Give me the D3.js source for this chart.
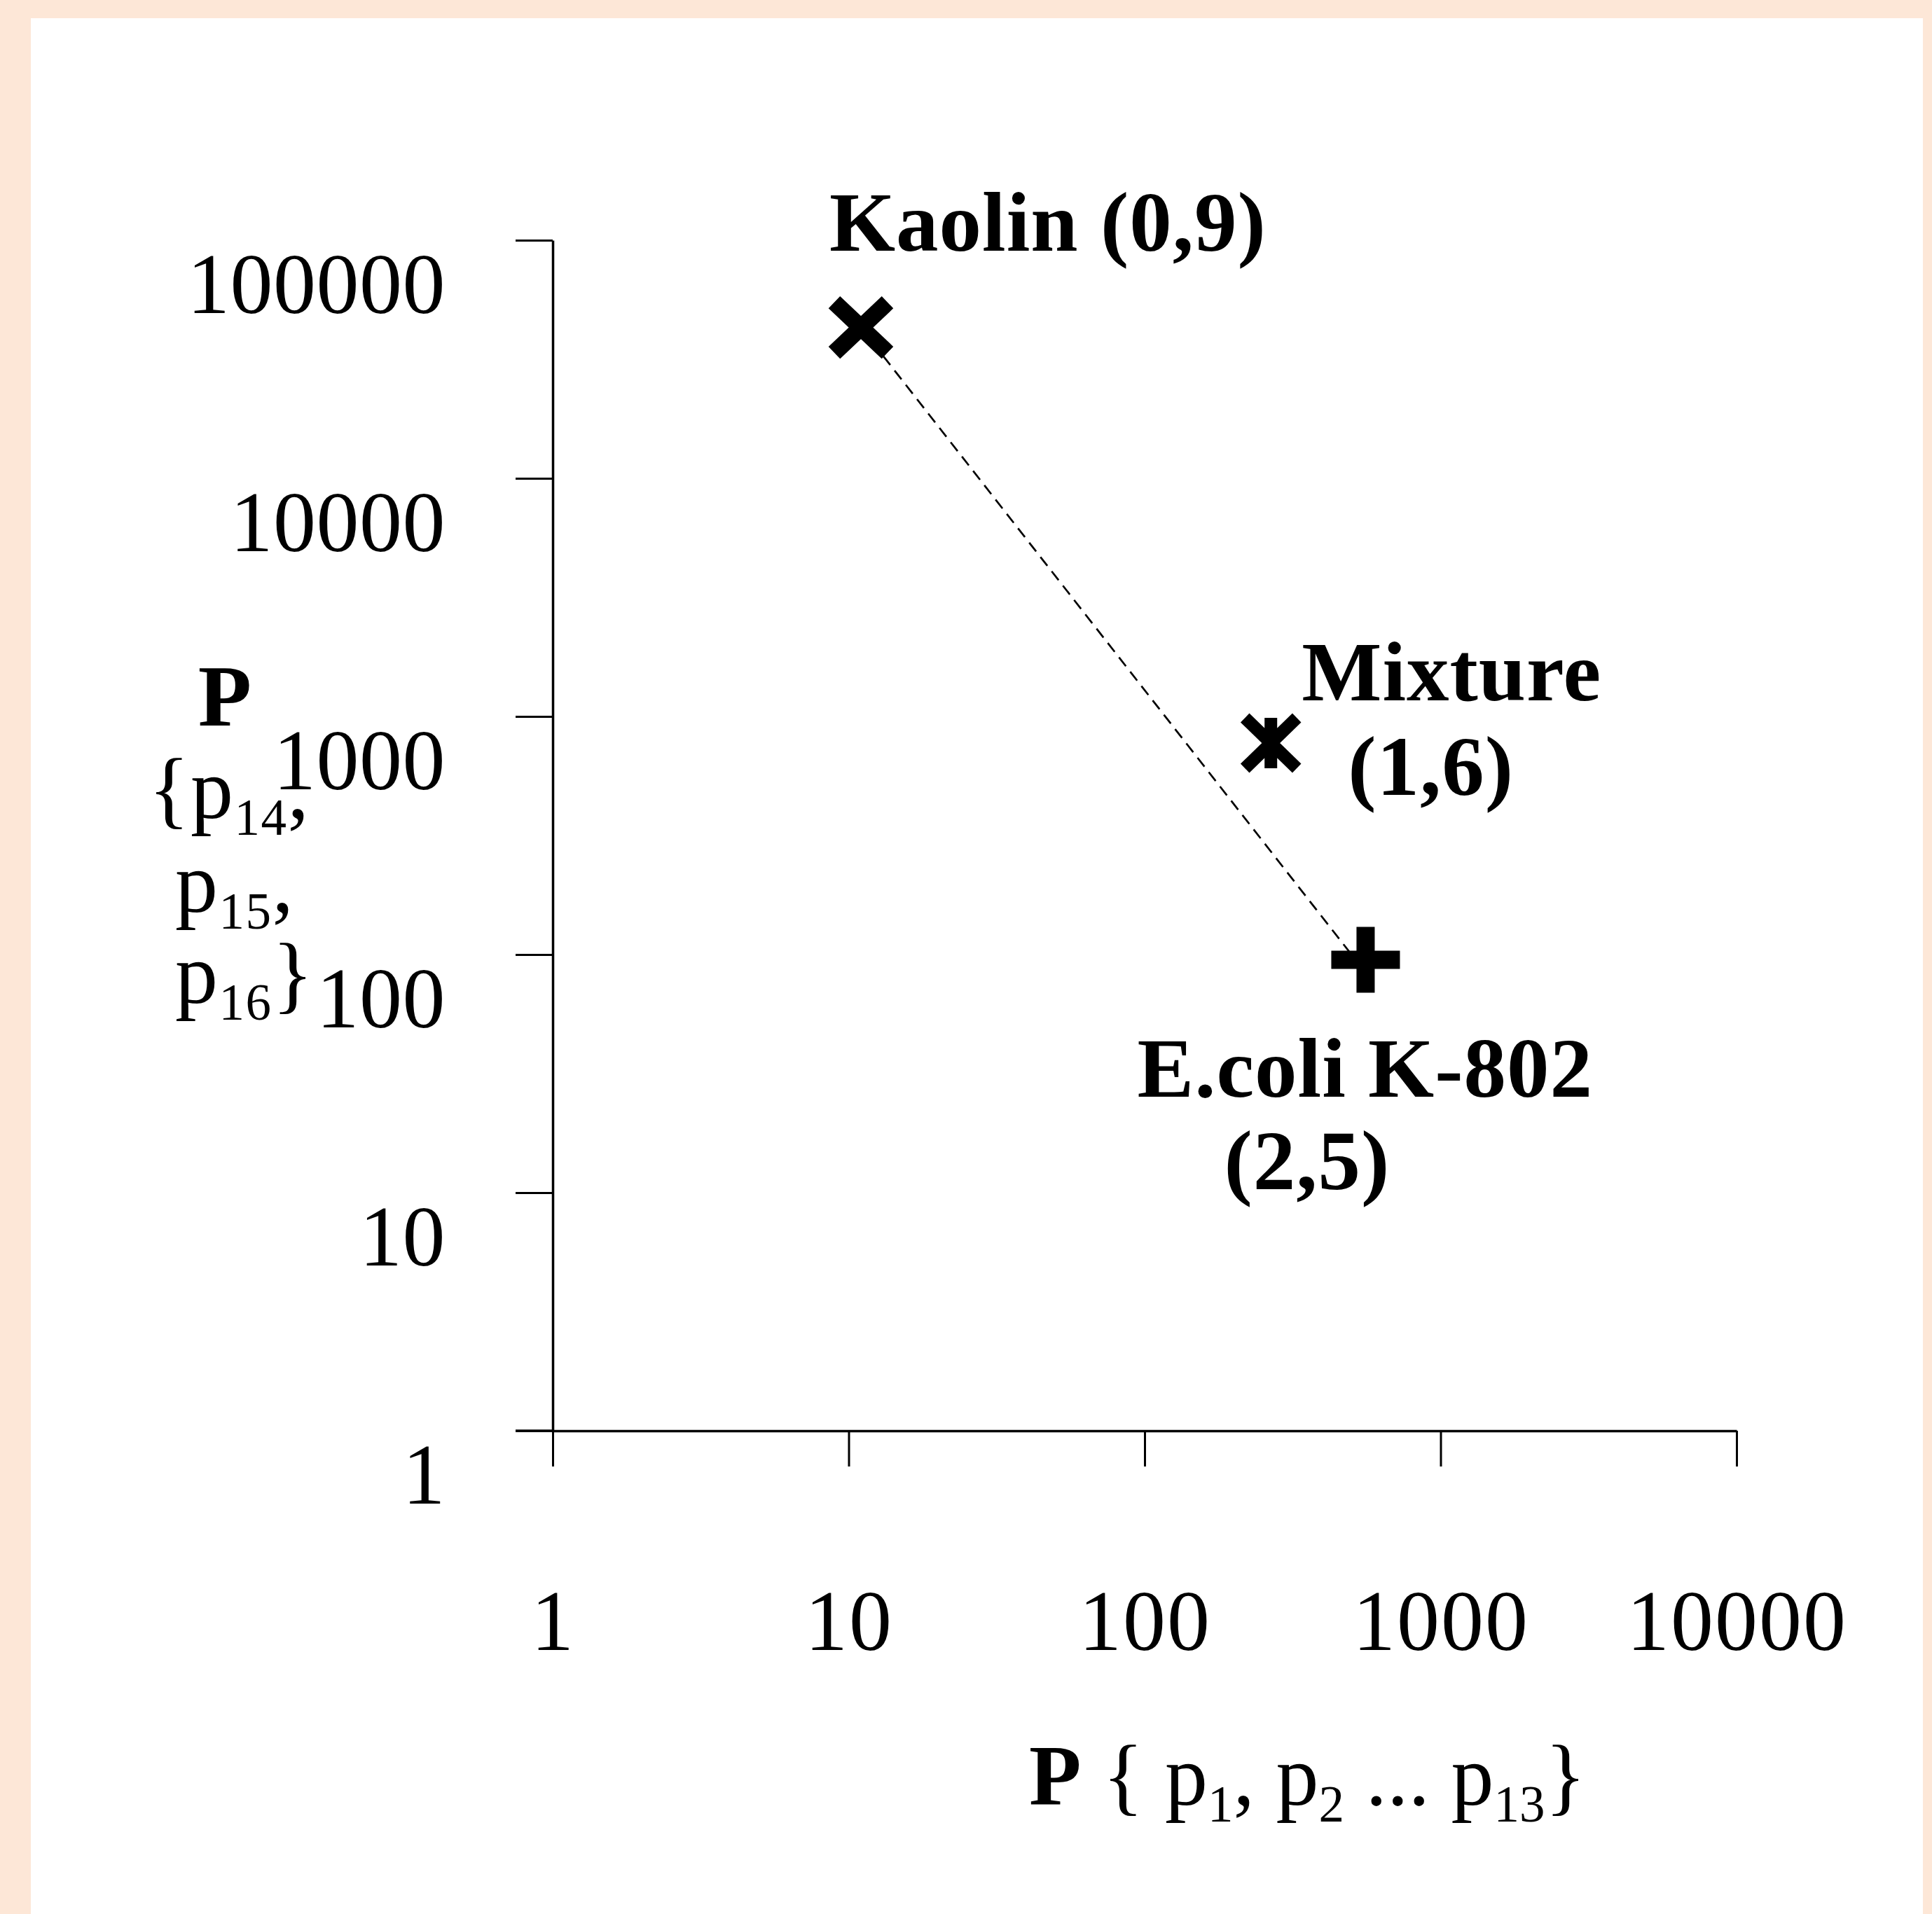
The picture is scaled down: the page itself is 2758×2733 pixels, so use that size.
<!DOCTYPE html>
<html>
<head>
<meta charset="utf-8">
<script src="https://cdn.jsdelivr.net/npm/d3@7"></script>
<style>
  body { margin: 0; background: #fde7d7; }
  svg { display: block; }
  text { font-family: "Liberation Serif", "Times New Roman", serif; fill: #000; }
</style>
</head>
<body>
<svg id="chart"></svg>
<script>
// data
const xTicks = [1, 10, 100, 1000, 10000];
const yTicks = [1, 10, 100, 1000, 10000, 100000];
const names = ["Kaolin", "Mixture", "E.coli K-802"];
const codes = ["(0,9)", "(1,6)", "(2,5)"];
const xValues = [11, 267, 558];
const yValues = [43000, 773, 95];
// dashed line between kaolin and e.coli
const lineX = [11, 558];
const lineY = [43000, 84];

var width = 2758,
    height = 2733;

var svg = d3.select("#chart")
    .attr("width", width)
    .attr("height", height);

// peach frame + white panel
svg.append("rect")
    .attr("width", width).attr("height", height)
    .attr("fill", "#fde7d7");
svg.append("rect")
    .attr("x", 44).attr("y", 26)
    .attr("width", 2745 - 44).attr("height", height - 26)
    .attr("fill", "#fff");

var xScale = d3.scaleLog().domain([1, 10000]).range([789, 2479]),
    yScale = d3.scaleLog().domain([1, 100000]).range([2043, 343]);

var fontSize = 122,
    boldSize = 121,
    subSize = 73;

// y axis
var gy = svg.append("g")
    .attr("transform", "translate(" + xScale(1) + ",0)")
    .call(d3.axisLeft(yScale).tickValues(yTicks).tickSize(53).tickSizeOuter(0)
        .tickFormat(d3.format("d")));
gy.select(".domain").attr("stroke-width", 3.5);
gy.selectAll(".tick line").attr("stroke-width", 3);
gy.selectAll(".tick text")
    .attr("x", -153)
    .attr("dy", null)
    .attr("y", 103)
    .attr("text-anchor", "end")
    .attr("font-size", fontSize)
    .attr("letter-spacing", 0.5)
    .attr("font-family", null);

// x axis
var gx = svg.append("g")
    .attr("transform", "translate(0," + yScale(1) + ")")
    .call(d3.axisBottom(xScale).tickValues(xTicks).tickSize(51).tickSizeOuter(0)
        .tickFormat(d3.format("d")));
gx.select(".domain").attr("stroke-width", 3.5);
gx.selectAll(".tick line").attr("stroke-width", 3);
gx.selectAll(".tick text")
    .attr("dy", null)
    .attr("y", 313)
    .attr("text-anchor", "middle")
    .attr("font-size", fontSize)
    .attr("letter-spacing", 2)
    .attr("font-family", null);

// extend x axis line left as the "1" tick of y
svg.append("line")
    .attr("x1", xScale(1) - 53).attr("x2", xScale(1))
    .attr("y1", yScale(1)).attr("y2", yScale(1))
    .attr("stroke", "#000").attr("stroke-width", 3.5);

// x axis title
var xt = svg.append("text")
    .attr("x", 1469).attr("y", 2577)
    .attr("font-size", fontSize);
xt.append("tspan").attr("font-weight", "bold").text("P");
xt.append("tspan").text(" { p");
xt.append("tspan").attr("font-size", subSize).attr("dy", 24).text("1");
xt.append("tspan").attr("dy", -24).text(", p");
xt.append("tspan").attr("font-size", subSize).attr("dy", 24).text("2");
xt.append("tspan").attr("dy", -24).text(" ... p");
xt.append("tspan").attr("font-size", subSize).attr("dy", 24).text("13");
xt.append("tspan").attr("dy", -24).text("}");

// y axis title (stacked lines)
svg.append("text")
    .attr("x", 321).attr("y", 1036)
    .attr("text-anchor", "middle")
    .attr("font-size", boldSize + 4)
    .attr("font-weight", "bold")
    .text("P");

const yTitleLines = [["{p", "14", ","], ["p", "15", ","], ["p", "16", "}"]];
const yTitleX = [212, 250, 250];
const yTitleY = [1168, 1302, 1432];
yTitleLines.forEach((parts, i) => {
    var t = svg.append("text")
        .attr("x", yTitleX[i]).attr("y", yTitleY[i])
        .attr("font-size", fontSize)
        .attr("letter-spacing", 1.5);
    t.append("tspan").text(parts[0]);
    t.append("tspan").attr("font-size", subSize).attr("dy", 24).text(parts[1]);
    t.append("tspan").attr("dy", -24).text(parts[2]);
});

// dashed connecting line
svg.append("path")
    .attr("d", d3.line().x(d => xScale(d[0])).y(d => yScale(d[1]))(d3.zip(lineX, lineY)))
    .attr("fill", "none")
    .attr("stroke", "#000")
    .attr("stroke-width", 2.7)
    .attr("stroke-dasharray", "16,10");

// markers
const markerPaths = [
    { d: "M-38,-36L38,36M-38,36L38,-36", w: 24 },
    { d: "M-37,-36L37,36M-37,36L37,-36M0,-36V36", w: 18 },
    { d: "M-49,0H49M0,-47V47", w: 26 }
];

var points = names.map((n, i) => ({ name: n, code: codes[i], x: xValues[i], y: yValues[i], i: i }));

svg.selectAll(".marker")
    .data(points)
    .enter()
    .append("path")
    .attr("class", "marker")
    .attr("transform", d => "translate(" + xScale(d.x) + "," + yScale(d.y) + ")")
    .attr("d", d => markerPaths[d.i].d)
    .attr("stroke", "#000")
    .attr("stroke-width", d => markerPaths[d.i].w)
    .attr("fill", "none");

// point labels, offsets from each point
const labelOffsets = [
    [[-45, -110, "both"]],
    [[44, -61, "name"], [110, 74, "code"]],
    [[-326, 195, "name"], [-202, 327, "code"]]
];

points.forEach(p => {
    var px = xScale(p.x), py = yScale(p.y);
    labelOffsets[p.i].forEach(o => {
        var txt = o[2] == "both" ? p.name + " " + p.code : (o[2] == "name" ? p.name : p.code);
        svg.append("text")
            .attr("x", px + o[0])
            .attr("y", py + o[1])
            .attr("font-size", boldSize)
            .attr("letter-spacing", 1)
            .attr("font-weight", "bold")
            .text(txt);
    });
});
</script>
</body>
</html>
